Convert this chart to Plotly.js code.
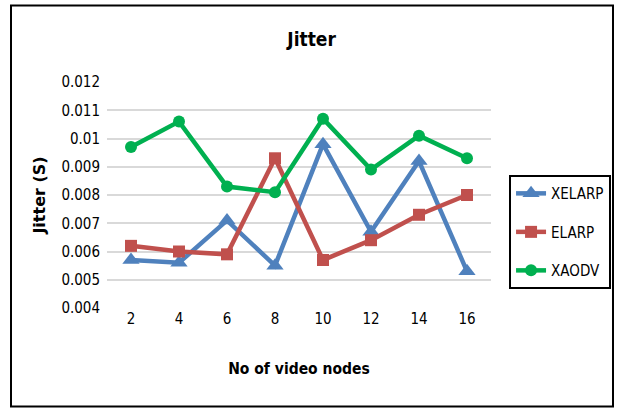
<!DOCTYPE html>
<html>
<head>
<meta charset="utf-8">
<script src="https://cdn.plot.ly/plotly-3.0.1.min.js"></script>
<style>
  html, body { margin: 0; padding: 0; background: #fff; }
  #chart { width: 617px; height: 410px; }
</style>
</head>
<body>
<div id="chart"></div>
<script>
// Number of video nodes on the x axis
const nodes = [2, 4, 6, 8, 10, 12, 14, 16];

// Jitter (seconds) per protocol
const xelarp = [0.0057, 0.0056, 0.0071, 0.0055, 0.0098, 0.0067, 0.0092, 0.0053];
const elarp  = [0.0062, 0.0060, 0.0059, 0.0093, 0.0057, 0.0064, 0.0073, 0.0080];
const xaodv  = [0.0097, 0.0106, 0.0083, 0.0081, 0.0107, 0.0089, 0.0101, 0.0093];

const yTicks = [0.004, 0.005, 0.006, 0.007, 0.008, 0.009, 0.01, 0.011, 0.012];

const FONT = '"DejaVu Sans Condensed", "Liberation Sans Narrow", sans-serif';

function series(name, y, color, symbol, size, group) {
  return {
    x: nodes, y: y, name: name, type: 'scatter', mode: 'lines+markers',
    legendgroup: group,
    line: { color: color, width: 4.5 },
    marker: { color: color, symbol: symbol, size: size }
  };
}

const data = [
  series('XELARP', xelarp, '#4F81BD', 'triangle-up', 15, 'a'),
  series('ELARP', elarp, '#C0504D', 'square', 12, 'b'),
  series('XAODV', xaodv, '#00B050', 'circle', 12, 'c')
];

const layout = {
  width: 617, height: 410,
  margin: { l: 107, r: 126, t: 82, b: 102, autoexpand: false },
  paper_bgcolor: '#ffffff', plot_bgcolor: '#ffffff',
  font: { family: FONT, size: 15, color: '#000' },
  title: {
    text: '<b>Jitter</b>',
    font: { family: FONT, size: 19, color: '#000' },
    x: 0.505, xanchor: 'center', y: 0.905, yanchor: 'middle'
  },
  xaxis: {
    range: [1, 17], tickvals: nodes, ticktext: nodes.map(String),
    showgrid: false, zeroline: false, showline: false, ticks: '',
    tickfont: { family: FONT, size: 15, color: '#000' },
    title: { text: '<b>No of video nodes</b>', font: { family: FONT, size: 15.5, color: '#000' }, standoff: 36 }
  },
  yaxis: {
    range: [0.004, 0.012], tickvals: yTicks, ticktext: yTicks.map(String),
    showgrid: true, gridcolor: '#D9D9D9', gridwidth: 2,
    zeroline: false, showline: false, ticks: '', ticklabelstandoff: 6,
    tickfont: { family: FONT, size: 15, color: '#000' },
    title: { text: '<b>Jitter (S)</b>', font: { family: '"DejaVu Sans", sans-serif', size: 16, color: '#000' }, standoff: 11 }
  },
  legend: {
    x: 1.047, xanchor: 'left', y: 0.588, yanchor: 'top',
    bordercolor: '#000', borderwidth: 2, bgcolor: '#fff',
    font: { family: FONT, size: 15, color: '#000' },
    traceorder: 'grouped', tracegroupgap: 16,
    itemwidth: 30
  },
  shapes: [{
    type: 'rect', xref: 'paper', yref: 'paper',
    x0: -0.25, x1: 1.3177, y0: -0.436, y1: 1.338,
    line: { color: '#000', width: 2 }, fillcolor: 'rgba(0,0,0,0)'
  }],
  showlegend: true
};

Plotly.newPlot('chart', data, layout, { displayModeBar: false, staticPlot: true });
</script>
</body>
</html>
